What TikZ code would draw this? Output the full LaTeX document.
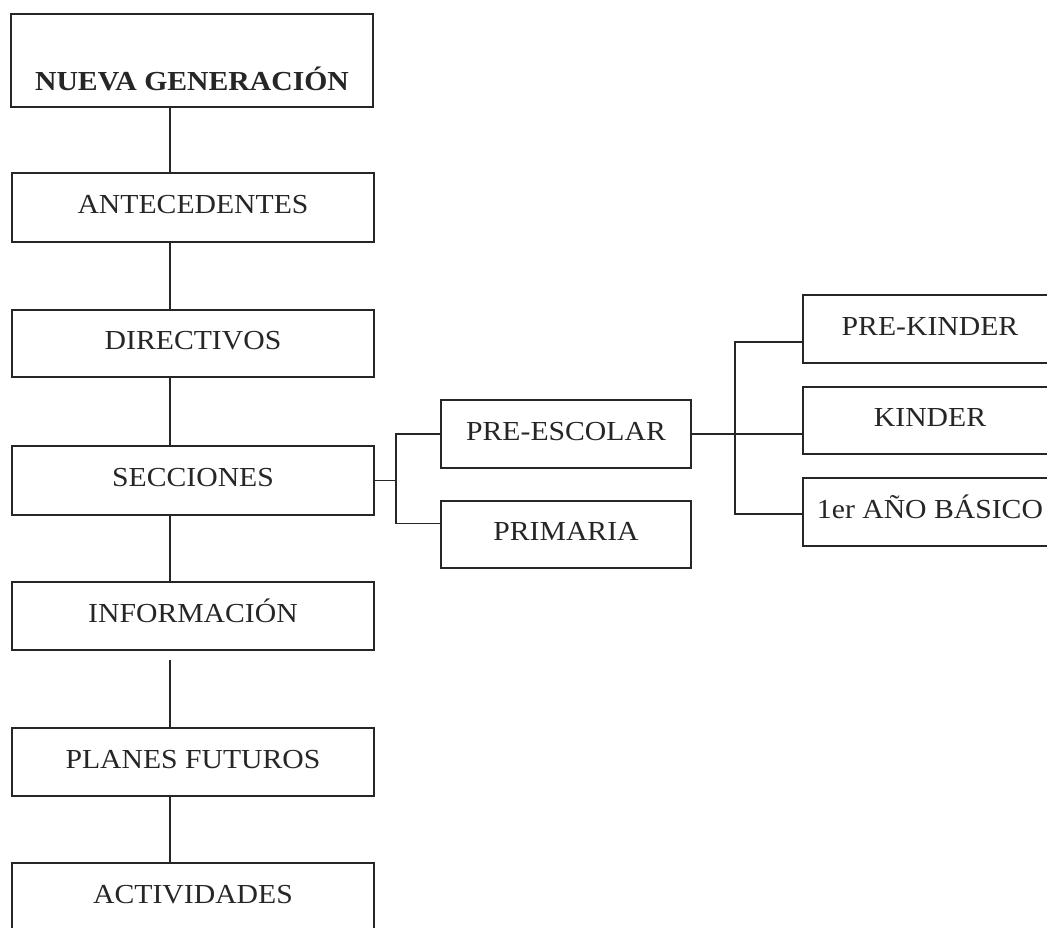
\documentclass[tikz,border=0pt]{standalone}
\usepackage{fontspec}
\setmainfont{Liberation Serif}[FakeStretch=1.08]
\definecolor{ink}{gray}{0.15}
\begin{document}
\begin{tikzpicture}[x=1pt,y=-1pt,
  box/.style={draw=ink, line width=1.6pt, rectangle, inner sep=0pt,
    text height=20pt, text depth=8pt, text=ink,
    font=\fontsize{27.5}{30}\selectfont},
  link/.style={draw=ink, line width=1.6pt}]
\useasboundingbox (0,0) rectangle (1047,927);
\clip (0,0) rectangle (1047,927);
\fill[white] (0,0) rectangle (1047,927);
% main column
\node[box, minimum width=362pt, minimum height=93pt, text height=59pt, text depth=0pt,
  font=\fontsize{27.5}{30}\selectfont\bfseries] (nueva) at (192,60.5) {NUEVA GENERACIÓN};
\node[box, minimum width=362pt, minimum height=69pt] (ante) at (193,207.5) {ANTECEDENTES};
\node[box, minimum width=362pt, minimum height=67pt] (dir) at (193,343.5) {DIRECTIVOS};
\node[box, minimum width=362pt, minimum height=69pt] (sec) at (193,480.5) {SECCIONES};
\node[box, minimum width=362pt, minimum height=68pt] (info) at (193,616) {INFORMACIÓN};
\node[box, minimum width=362pt, minimum height=68pt] (plan) at (193,762) {PLANES FUTUROS};
\node[box, minimum width=362pt, minimum height=68pt] (act) at (193,897) {ACTIVIDADES};
% second level
\node[box, minimum width=250pt, minimum height=68pt] (pre) at (566,434) {PRE-ESCOLAR};
\node[box, minimum width=250pt, minimum height=67pt] (prim) at (566,534.5) {PRIMARIA};
% third level
\node[box, minimum width=254pt, minimum height=68pt] (pk) at (930,329) {PRE-KINDER};
\node[box, minimum width=254pt, minimum height=67pt] (kin) at (930,420.5) {KINDER};
\node[box, minimum width=254pt, minimum height=68pt] (ano) at (930,512) {1er AÑO BÁSICO};
% spine
\coordinate (spine) at (170,0);
\coordinate (infogap) at ([yshift=-9pt]info.south);
\draw[link] (nueva.south -| spine) -- (ante.north -| spine);
\draw[link] (ante.south -| spine) -- (dir.north -| spine);
\draw[link] (dir.south -| spine) -- (sec.north -| spine);
\draw[link] (sec.south -| spine) -- (info.north -| spine);
\draw[link] (infogap -| spine) -- (plan.north -| spine);
\draw[link] (plan.south -| spine) -- (act.north -| spine);
% branch from SECCIONES
\coordinate (j1) at (396,478);
\coordinate (pl) at ([yshift=11pt]prim.west);
\draw[link] (sec.east) -- (sec.east -| j1);
\draw[link] (pre.west) -| (j1 |- pl) -- (pl);
% branch from PRE-ESCOLAR
\coordinate (j2) at (735,0);
\coordinate (pkl) at ([yshift=-13pt]pk.west);
\coordinate (anl) at ([yshift=-2pt]ano.west);
\draw[link] (pre.east) -- (pre.east -| kin.west);
\draw[link] (pkl) -| (j2 |- anl) -- (anl);
\end{tikzpicture}
\end{document}
